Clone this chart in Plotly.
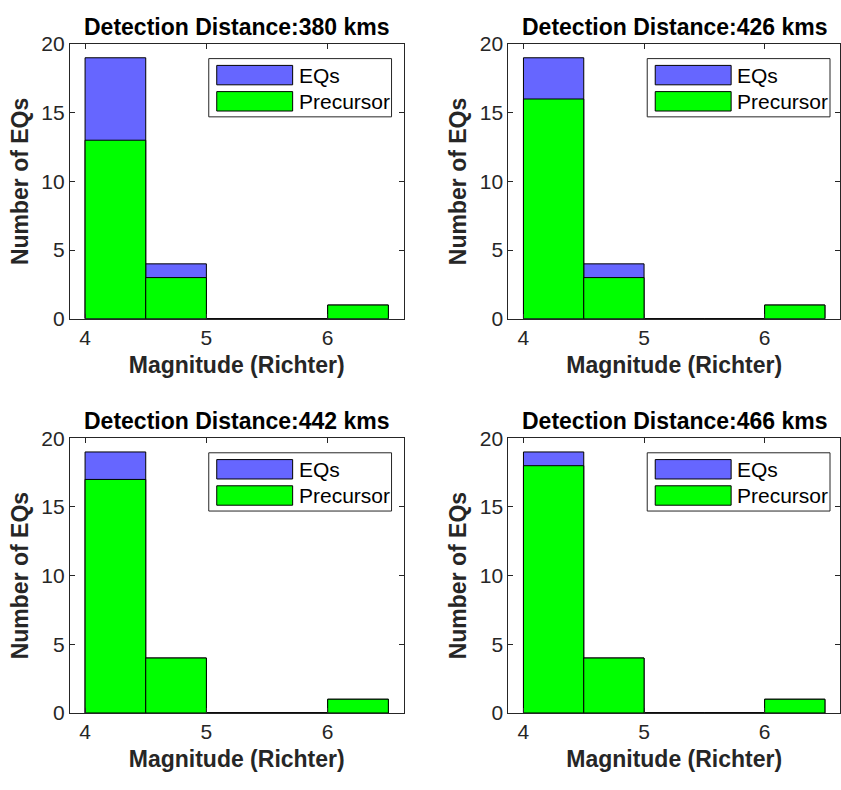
import numpy as np
import plotly.graph_objects as go

# ---- data ----
bin_edges = [4.0, 4.5, 5.0, 5.5, 6.0, 6.5]
distances = [380, 426, 442, 466]
eqs_counts = [
    [19, 4, 0, 0, 1],
    [19, 4, 0, 0, 1],
    [19, 4, 0, 0, 1],
    [19, 4, 0, 0, 1],
]
precursor_counts = [
    [13, 3, 0, 0, 1],
    [16, 3, 0, 0, 1],
    [17, 4, 0, 0, 1],
    [18, 4, 0, 0, 1],
]
series_names = ["EQs", "Precursor"]
series_colors = ["#6666FF", "#00FF00"]
x_ticks = [4, 5, 6]
y_ticks = [0, 5, 10, 15, 20]

# ---- layout geometry (pixels) ----
W, H = 841, 790
FONT = "Liberation Sans, Arial, Helvetica, sans-serif"
TXT = "#262626"
# axes boxes: (left, right, top, bottom) in pixels
boxes = [
    (70, 404, 33, 316),
    (509, 842, 33, 316),
    (70, 404, 439, 722),
    (509, 842, 439, 722),
]

centers = [(a + b) / 2 for a, b in zip(bin_edges[:-1], bin_edges[1:])]
widths = [b - a for a, b in zip(bin_edges[:-1], bin_edges[1:])]

fig = go.Figure()
layout = dict(
    width=W, height=H,
    margin=dict(l=0, r=0, t=0, b=0),
    paper_bgcolor="white", plot_bgcolor="white",
    barmode="overlay", showlegend=False,
    font=dict(family=FONT, color=TXT, size=21),
)
annotations = []
shapes = []

def px_x(p):
    return min(p / W, 1.0)

def px_y(p):
    return 1 - p / H

for i in range(4):
    l, r, t, b = boxes[i]
    xa = "x" if i == 0 else f"x{i+1}"
    ya = "y" if i == 0 else f"y{i+1}"
    for name, color, counts in zip(series_names, series_colors,
                                   [eqs_counts[i], precursor_counts[i]]):
        fig.add_trace(go.Bar(
            x=centers, y=counts, width=widths, name=name,
            marker=dict(color=color, line=dict(color="black", width=1)),
            xaxis=xa, yaxis=ya, showlegend=(i == 0),
        ))
    xk = "xaxis" if i == 0 else f"xaxis{i+1}"
    yk = "yaxis" if i == 0 else f"yaxis{i+1}"
    layout[xk] = dict(
        domain=[px_x(l), px_x(r)], anchor=ya, range=[3.875, 6.625],
        tickvals=x_ticks, ticks="inside", ticklen=5, tickcolor=TXT,
        showline=True, linecolor=TXT, linewidth=1, mirror="ticks",
        showgrid=False, zeroline=False,
        tickfont=dict(size=21, color=TXT, family=FONT),
        title=dict(text="<b>Magnitude (Richter)</b>", standoff=8,
                   font=dict(size=23, color=TXT, family=FONT)),
    )
    layout[yk] = dict(
        domain=[px_y(b), px_y(t)], anchor=xa, range=[0, 20],
        tickvals=y_ticks, ticks="inside", ticklen=5, tickcolor=TXT,
        showline=True, linecolor=TXT, linewidth=1, mirror="ticks",
        showgrid=False, zeroline=False,
        tickfont=dict(size=21, color=TXT, family=FONT),
        title=dict(text="<b>Number of EQs</b>", standoff=6,
                   font=dict(size=23, color=TXT, family=FONT)),
    )
    # subplot title
    annotations.append(dict(
        text=f"<b>Detection Distance:{distances[i]} kms</b>",
        x=px_x((l + min(r, 842)) / 2), y=px_y(t - 2),
        xref="paper", yref="paper", xanchor="center", yanchor="bottom",
        showarrow=False, font=dict(size=23, color="black", family=FONT),
    ))
    # legend box (drawn manually to mimic MATLAB legend)
    lg_l, lg_t = l + 139, t + 15
    lg_r, lg_b = lg_l + 183, lg_t + 60
    shapes.append(dict(type="rect", xref="paper", yref="paper",
                       x0=px_x(lg_l), x1=px_x(lg_r), y0=px_y(lg_b), y1=px_y(lg_t),
                       line=dict(color=TXT, width=1), fillcolor="white"))
    for k, (name, color) in enumerate(zip(series_names, series_colors)):
        pt = lg_t + 7 + k * 27
        shapes.append(dict(type="rect", xref="paper", yref="paper",
                           x0=px_x(lg_l + 8), x1=px_x(lg_l + 84),
                           y0=px_y(pt + 20), y1=px_y(pt),
                           line=dict(color="black", width=1), fillcolor=color))
        annotations.append(dict(
            text=name, x=px_x(lg_l + 88), y=px_y(pt + 10),
            xref="paper", yref="paper", xanchor="left", yanchor="middle",
            showarrow=False, font=dict(size=21, color="black", family=FONT),
        ))

layout["annotations"] = annotations
layout["shapes"] = shapes
fig.update_layout(**layout)
fig.write_html("out.html")
